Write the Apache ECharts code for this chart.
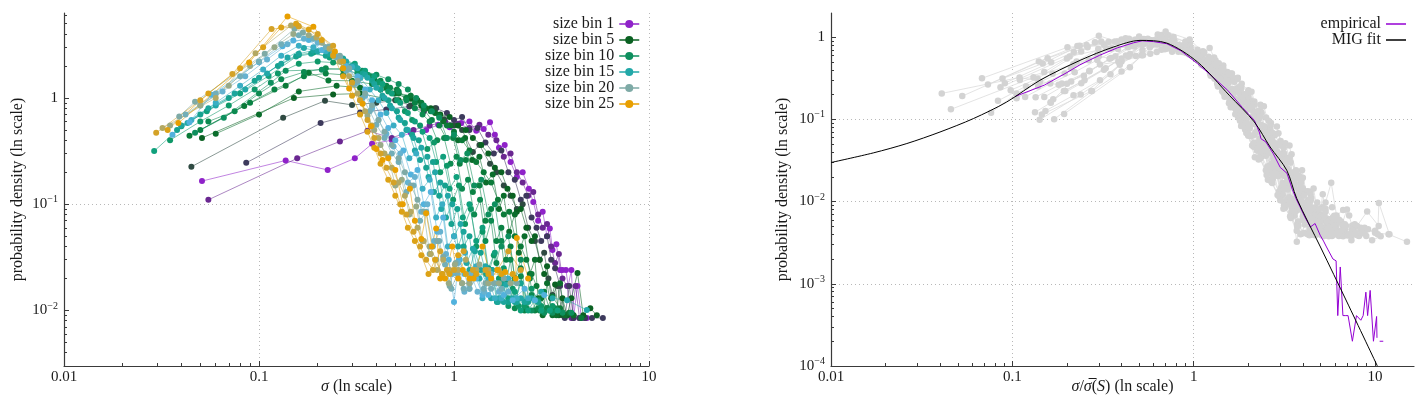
<!DOCTYPE html>
<html><head><meta charset="utf-8">
<script src="https://cdn.jsdelivr.net/npm/echarts@6/dist/echarts.min.js"></script>
<style>html,body{margin:0;padding:0;background:#fff}#c{width:1422px;height:399px}</style>
</head><body><div id="c"></div>
<script>
// ---------- data ----------
const binNumbers = [1,2,3,4,5,6,7,8,9,10,11,12,13,14,15,16,17,18,19,20,21,22,23,24,25];
const binColors = ['#8f22c9','#6a2791','#3d3a5c','#2f4a42','#0a6122','#0b6d2c','#0a7a38','#0a8244','#0c8a50','#0e8f5e',
                   '#0e9868','#10a07c','#16a290','#1ca59c','#22a8a8','#3aaec4','#52b2dd','#66b2d0','#72aeb8','#7eaaa6',
                   '#98aa88','#b3a862','#d4a227','#dca216','#e89f00'];
const meanSigma = [1.25,1.2,1.0,0.85,0.75,0.68,0.6,0.55,0.5,0.48,0.42,0.38,0.36,0.34,0.32,0.3,0.27,0.26,0.25,0.24,0.23,0.22,0.21,0.2,0.2];

const sizeBin1 = [[0.051,0.165],[0.137,0.258],[0.225,0.21],[0.31,0.27],[0.38,0.37],[0.48,0.40],[0.6,0.47],[0.72,0.5],[0.83,0.56],[0.95,0.53],[1.09,0.58],[1.2,0.6],[1.3,0.49],[1.42,0.51],[1.53,0.59],[1.62,0.45],[1.7,0.34],[1.82,0.36],[1.95,0.25],[2.1,0.18],[2.25,0.2],[2.42,0.14],[2.55,0.105],[2.7,0.07],[2.85,0.085],[3.0,0.05],[3.1,0.059],[3.2,0.037],[3.35,0.042],[3.5,0.024],[3.6,0.024],[3.75,0.024],[3.85,0.017],[4.0,0.024],[4.1,0.0085],[4.3,0.017],[4.5,0.0085],[4.8,0.0085]];
const sizeBin2 = [[0.055,0.11],[0.157,0.27],[0.26,0.39],[0.36,0.49],[0.48,0.42],[0.62,0.5],[0.75,0.55],[0.9,0.6],[1.05,0.57],[1.2,0.52],[1.35,0.56],[1.5,0.45],[1.65,0.4],[1.8,0.28],[1.95,0.3],[2.1,0.2],[2.25,0.16],[2.4,0.12],[2.55,0.13],[2.7,0.08],[2.85,0.06],[3.0,0.065],[3.15,0.04],[3.3,0.028],[3.45,0.034],[3.6,0.02],[3.8,0.017],[4.0,0.0085],[4.2,0.017],[4.4,0.0085],[4.7,0.0085]];
const sizeBin3 = [[0.086,0.245],[0.207,0.58],[0.33,0.73],[0.45,0.78],[0.59,0.83],[0.7,0.75],[0.81,0.8],[0.92,0.72],[1.0,0.62],[1.1,0.66],[1.2,0.5],[1.32,0.52],[1.45,0.38],[1.6,0.3],[1.75,0.32],[1.9,0.2],[2.05,0.17],[2.2,0.11],[2.35,0.12],[2.5,0.075],[2.65,0.06],[2.8,0.045],[3.0,0.05],[3.15,0.03],[3.3,0.025],[3.5,0.017],[3.7,0.0085],[3.9,0.017],[4.1,0.0085],[4.4,0.0085],[4.7,0.0085],[5.1,0.0085],[5.8,0.0085]];
const sizeBin4 = [[0.045,0.225],[0.133,0.65],[0.218,0.94],[0.30,0.86],[0.4,0.9],[0.5,0.95],[0.6,0.85],[0.7,0.78],[0.8,0.8],[0.89,0.63],[1.0,0.55],[1.1,0.5],[1.25,0.31],[1.35,0.36],[1.53,0.24],[1.65,0.2],[1.8,0.15],[1.95,0.12],[2.1,0.09],[2.25,0.1],[2.4,0.06],[2.6,0.045],[2.75,0.03],[2.9,0.035],[3.05,0.02],[3.2,0.014],[3.4,0.017],[3.6,0.009],[3.8,0.009],[4.1,0.009]];
const sizeBin5 = [[0.051,0.42],[0.151,1.0],[0.24,1.08],[0.33,1.1],[0.43,1.0],[0.52,0.95],[0.6,0.98],[0.68,0.85],[0.76,0.8],[0.85,0.7],[0.95,0.66],[1.05,0.55],[1.15,0.5],[1.25,0.42],[1.38,0.36],[1.5,0.3],[1.62,0.22],[1.75,0.2],[1.88,0.14],[2.0,0.12],[2.1,0.085],[2.2,0.09],[2.35,0.06],[2.5,0.045],[2.6,0.05],[2.75,0.03],[2.9,0.022],[3.0,0.026],[3.15,0.013],[3.3,0.0175],[3.45,0.009],[3.6,0.013],[3.8,0.009],[4.0,0.013],[4.3,0.0225],[4.6,0.009],[5.0,0.0105],[5.4,0.009]];
const sizeBin6 = [[0.06,0.46],[0.1,0.7],[0.16,1.15],[0.25,1.3],[0.33,1.25],[0.42,1.2],[0.5,1.1],[0.57,1.0],[0.65,0.95],[0.72,0.8],[0.8,0.72],[0.88,0.6],[0.96,0.55],[1.05,0.4],[1.14,0.42],[1.24,0.26],[1.35,0.28],[1.46,0.16],[1.58,0.19],[1.7,0.09],[1.8,0.12],[1.92,0.055],[2.05,0.08],[2.15,0.035],[2.3,0.05],[2.45,0.022],[2.6,0.03],[2.7,0.013],[2.85,0.009],[3.0,0.018],[3.2,0.009],[3.35,0.009],[3.5,0.018],[3.7,0.009],[4.1,0.009]];
const sizeBin7 = [[0.044,0.44],[0.084,0.84],[0.137,1.3],[0.18,1.73],[0.227,1.46],[0.3,1.45],[0.38,1.35],[0.45,1.25],[0.52,1.1],[0.6,1.05],[0.68,0.9],[0.76,0.75],[0.84,0.68],[0.92,0.55],[1.0,0.48],[1.1,0.4],[1.2,0.32],[1.3,0.25],[1.42,0.2],[1.55,0.16],[1.68,0.11],[1.8,0.08],[1.92,0.085],[2.05,0.05],[2.2,0.04],[2.35,0.03],[2.5,0.022],[2.65,0.017],[2.8,0.013],[3.0,0.0105],[3.2,0.0135],[3.5,0.0105],[3.9,0.0095],[4.5,0.0085]];
const sizeBin8 = [[0.05,0.5],[0.09,0.9],[0.12,1.2],[0.17,1.6],[0.22,1.7],[0.27,1.65],[0.33,1.55],[0.39,1.5],[0.45,1.3],[0.51,1.2],[0.57,1.0],[0.63,0.9],[0.7,0.78],[0.77,0.62],[0.84,0.55],[0.91,0.42],[0.99,0.42],[1.07,0.24],[1.15,0.26],[1.25,0.13],[1.35,0.15],[1.45,0.07],[1.55,0.09],[1.65,0.045],[1.75,0.06],[1.85,0.03],[1.95,0.04],[2.05,0.02],[2.2,0.025],[2.3,0.01],[2.45,0.02],[2.6,0.01],[2.75,0.01],[2.9,0.015],[3.1,0.01],[3.4,0.01]];
const sizeBin9 = [[0.055,0.6],[0.075,0.75],[0.1,1.1],[0.13,1.5],[0.17,1.75],[0.22,1.9],[0.27,1.85],[0.32,1.7],[0.37,1.6],[0.42,1.45],[0.47,1.25],[0.52,1.15],[0.57,0.95],[0.63,0.8],[0.69,0.7],[0.75,0.6],[0.82,0.4],[0.89,0.42],[0.96,0.24],[1.03,0.28],[1.1,0.14],[1.18,0.17],[1.27,0.08],[1.36,0.11],[1.45,0.045],[1.55,0.07],[1.65,0.028],[1.75,0.045],[1.85,0.018],[1.95,0.03],[2.05,0.0105],[2.2,0.021],[2.35,0.0105],[2.5,0.014],[2.7,0.0105],[3.0,0.0105],[3.3,0.0105]];
const sizeBin10 = [[0.047,0.47],[0.066,0.65],[0.115,1.39],[0.137,1.8],[0.21,1.84],[0.28,1.9],[0.34,1.8],[0.4,1.65],[0.46,1.5],[0.52,1.35],[0.58,1.2],[0.64,1.0],[0.7,0.85],[0.77,0.75],[0.84,0.65],[0.92,0.42],[1.0,0.45],[1.08,0.26],[1.17,0.3],[1.27,0.15],[1.38,0.17],[1.5,0.08],[1.62,0.1],[1.75,0.04],[1.9,0.05],[2.05,0.02],[2.2,0.03],[2.35,0.012],[2.5,0.01],[2.7,0.0125],[2.9,0.0095],[3.2,0.0095],[3.6,0.0095],[4.0,0.0095]];
const sizeBin11 = [[0.035,0.4],[0.05,0.6],[0.07,0.85],[0.095,1.2],[0.125,1.7],[0.16,2.1],[0.2,2.2],[0.24,2.15],[0.28,2.0],[0.32,1.8],[0.36,1.65],[0.41,1.4],[0.46,1.15],[0.51,0.95],[0.56,0.75],[0.61,0.62],[0.67,0.55],[0.73,0.33],[0.79,0.38],[0.85,0.2],[0.92,0.23],[0.99,0.11],[1.06,0.15],[1.14,0.065],[1.22,0.09],[1.3,0.04],[1.4,0.055],[1.5,0.022],[1.6,0.033],[1.7,0.02],[1.8,0.025],[1.9,0.011],[2.0,0.016],[2.15,0.011],[2.3,0.011],[2.5,0.016],[2.8,0.011],[3.2,0.011]];
const sizeBin12 = [[0.029,0.316],[0.04,0.54],[0.054,0.75],[0.08,1.1],[0.112,1.61],[0.16,2.54],[0.19,2.67],[0.23,2.4],[0.27,2.3],[0.31,2.1],[0.35,1.8],[0.39,1.6],[0.43,1.35],[0.48,1.1],[0.53,0.9],[0.58,0.72],[0.63,0.6],[0.69,0.48],[0.75,0.42],[0.81,0.25],[0.88,0.28],[0.95,0.14],[1.03,0.18],[1.11,0.075],[1.2,0.1],[1.3,0.045],[1.4,0.06],[1.5,0.025],[1.62,0.035],[1.75,0.018],[1.9,0.013],[2.05,0.015],[2.2,0.01],[2.4,0.01],[2.6,0.0125],[2.8,0.01],[3.1,0.01],[3.4,0.01]];
const sizeBin13 = [[0.038,0.5],[0.05,0.7],[0.07,1.0],[0.095,1.45],[0.125,2.0],[0.155,2.45],[0.185,2.6],[0.22,2.5],[0.26,2.3],[0.3,2.0],[0.34,1.7],[0.38,1.45],[0.42,1.2],[0.46,0.95],[0.51,0.75],[0.56,0.58],[0.61,0.45],[0.66,0.4],[0.72,0.22],[0.78,0.25],[0.84,0.12],[0.9,0.15],[0.97,0.065],[1.04,0.09],[1.12,0.04],[1.2,0.05],[1.28,0.022],[1.37,0.035],[1.46,0.022],[1.56,0.024],[1.66,0.012],[1.78,0.018],[1.9,0.012],[2.05,0.012],[2.2,0.018],[2.4,0.012],[2.7,0.012]];
const sizeBin14 = [[0.04,0.55],[0.055,0.8],[0.075,1.1],[0.1,1.55],[0.13,2.1],[0.16,2.6],[0.19,2.8],[0.23,2.6],[0.27,2.35],[0.31,2.0],[0.35,1.65],[0.39,1.35],[0.43,1.05],[0.47,0.85],[0.52,0.65],[0.57,0.5],[0.62,0.42],[0.67,0.26],[0.73,0.28],[0.79,0.13],[0.85,0.16],[0.91,0.075],[0.98,0.1],[1.05,0.04],[1.12,0.055],[1.2,0.024],[1.28,0.036],[1.37,0.024],[1.47,0.018],[1.57,0.024],[1.68,0.012],[1.8,0.012],[1.95,0.018],[2.1,0.012],[2.3,0.012],[2.6,0.0125]];
const sizeBin15 = [[0.043,0.58],[0.06,0.85],[0.085,1.2],[0.11,1.7],[0.14,2.4],[0.17,2.95],[0.2,2.75],[0.24,2.55],[0.28,2.2],[0.32,1.9],[0.36,1.55],[0.4,1.25],[0.44,1.0],[0.48,0.8],[0.53,0.62],[0.58,0.5],[0.63,0.32],[0.68,0.34],[0.74,0.18],[0.8,0.2],[0.86,0.09],[0.93,0.12],[1.0,0.05],[1.08,0.065],[1.16,0.028],[1.25,0.038],[1.35,0.02],[1.45,0.026],[1.55,0.013],[1.7,0.013],[1.85,0.0175],[2.0,0.013],[2.2,0.013],[2.5,0.013],[2.8,0.015],[3.2,0.013],[3.8,0.0125],[4.8,0.0101]];
const sizeBin16 = [[0.045,0.62],[0.06,0.9],[0.08,1.3],[0.105,1.85],[0.13,2.5],[0.16,3.1],[0.19,3.0],[0.22,2.75],[0.26,2.4],[0.3,1.95],[0.33,1.55],[0.37,1.2],[0.41,0.95],[0.45,0.72],[0.49,0.55],[0.54,0.45],[0.59,0.27],[0.64,0.3],[0.69,0.14],[0.75,0.17],[0.81,0.075],[0.87,0.1],[0.93,0.04],[1.0,0.05],[1.07,0.03],[1.14,0.035],[1.22,0.02],[1.3,0.026],[1.4,0.013],[1.5,0.02],[1.62,0.013],[1.75,0.013],[1.9,0.02],[2.1,0.013],[2.4,0.013]];
const sizeBin17 = [[0.036,0.45],[0.044,0.59],[0.057,1.07],[0.1,2.17],[0.132,3.07],[0.15,3.47],[0.18,3.5],[0.21,2.83],[0.245,2.5],[0.28,2.0],[0.32,1.6],[0.35,1.2],[0.38,0.95],[0.42,0.7],[0.46,0.52],[0.5,0.4],[0.55,0.32],[0.6,0.19],[0.65,0.21],[0.7,0.1],[0.76,0.13],[0.82,0.055],[0.88,0.075],[0.94,0.03],[1.0,0.012],[1.06,0.03],[1.13,0.022],[1.2,0.016],[1.3,0.02],[1.4,0.014],[1.5,0.014],[1.65,0.018],[1.8,0.014],[2.0,0.0125],[2.3,0.016],[2.6,0.0125],[2.9,0.014]];
const sizeBin18 = [[0.05,0.85],[0.065,1.15],[0.085,1.6],[0.11,2.3],[0.14,3.2],[0.17,3.6],[0.2,3.3],[0.23,2.9],[0.26,2.4],[0.29,1.85],[0.32,1.4],[0.35,1.05],[0.38,0.8],[0.41,0.62],[0.45,0.46],[0.49,0.35],[0.53,0.3],[0.58,0.16],[0.63,0.18],[0.68,0.085],[0.73,0.1],[0.79,0.045],[0.85,0.055],[0.91,0.034],[0.98,0.022],[1.05,0.028],[1.13,0.015],[1.22,0.022],[1.32,0.015],[1.43,0.015],[1.55,0.022],[1.7,0.015],[1.9,0.015]];
const sizeBin19 = [[0.042,0.7],[0.06,1.1],[0.08,1.6],[0.1,2.2],[0.13,3.2],[0.16,3.9],[0.19,3.6],[0.22,3.0],[0.25,2.4],[0.28,1.8],[0.31,1.35],[0.34,1.0],[0.37,0.75],[0.4,0.56],[0.44,0.42],[0.48,0.3],[0.52,0.25],[0.57,0.13],[0.62,0.15],[0.67,0.07],[0.72,0.085],[0.78,0.04],[0.84,0.045],[0.9,0.027],[0.97,0.016],[1.04,0.022],[1.12,0.016],[1.2,0.016],[1.3,0.024],[1.42,0.016],[1.55,0.016],[1.75,0.016]];
const sizeBin20 = [[0.039,0.67],[0.047,0.92],[0.107,2.6],[0.152,4.47],[0.168,4.13],[0.229,3.05],[0.26,2.5],[0.29,1.9],[0.32,1.45],[0.35,1.1],[0.38,0.85],[0.41,0.62],[0.44,0.48],[0.48,0.36],[0.52,0.27],[0.56,0.2],[0.6,0.15],[0.65,0.11],[0.7,0.085],[0.75,0.034],[0.82,0.045],[0.88,0.032],[0.95,0.017],[1.02,0.028],[1.1,0.018],[1.2,0.018],[1.3,0.024],[1.45,0.018],[1.6,0.018],[1.8,0.02],[2.1,0.018]];
const sizeBin21 = [[0.035,0.55],[0.05,0.85],[0.07,1.3],[0.09,2.0],[0.12,3.0],[0.15,4.0],[0.18,3.9],[0.21,3.3],[0.24,2.6],[0.27,1.9],[0.3,1.35],[0.33,0.95],[0.36,0.68],[0.39,0.5],[0.42,0.36],[0.46,0.28],[0.5,0.15],[0.54,0.17],[0.59,0.08],[0.64,0.095],[0.69,0.045],[0.75,0.04],[0.81,0.03],[0.87,0.022],[0.94,0.018],[1.01,0.027],[1.1,0.018],[1.2,0.018],[1.35,0.027],[1.5,0.018],[1.7,0.018],[1.95,0.018]];
const sizeBin22 = [[0.032,0.52],[0.06,1.0],[0.096,2.64],[0.146,4.8],[0.159,4.77],[0.197,3.7],[0.23,2.9],[0.26,2.2],[0.29,1.6],[0.32,1.1],[0.35,0.75],[0.38,0.55],[0.41,0.42],[0.44,0.3],[0.48,0.22],[0.52,0.16],[0.56,0.12],[0.6,0.085],[0.65,0.06],[0.7,0.045],[0.76,0.034],[0.82,0.024],[0.88,0.03],[0.95,0.024],[1.05,0.024],[1.15,0.03],[1.3,0.024],[1.5,0.024],[1.7,0.024]];
const sizeBin23 = [[0.0297,0.47],[0.05,0.95],[0.073,1.68],[0.116,4.45],[0.16,4.7],[0.2,4.0],[0.24,3.1],[0.27,2.2],[0.3,1.4],[0.33,0.95],[0.36,0.62],[0.39,0.42],[0.42,0.3],[0.45,0.22],[0.49,0.16],[0.53,0.1],[0.57,0.08],[0.62,0.055],[0.67,0.04],[0.72,0.03],[0.78,0.024],[0.85,0.036],[0.92,0.024],[1.0,0.024],[1.12,0.036],[1.25,0.024],[1.45,0.024],[1.67,0.024],[1.9,0.036],[2.2,0.024]];
const sizeBin24 = [[0.034,0.5],[0.055,1.1],[0.08,1.9],[0.105,3.0],[0.13,4.6],[0.155,5.0],[0.18,4.4],[0.21,3.5],[0.24,2.5],[0.27,1.6],[0.3,1.05],[0.33,0.7],[0.36,0.48],[0.39,0.34],[0.42,0.24],[0.46,0.17],[0.5,0.12],[0.54,0.085],[0.58,0.06],[0.63,0.045],[0.68,0.033],[0.74,0.022],[0.8,0.03],[0.87,0.022],[0.95,0.022],[1.05,0.033],[1.15,0.022],[1.3,0.022],[1.5,0.022],[1.75,0.022],[2.0,0.022]];
const sizeBin25 = [[0.0386,0.58],[0.089,2.15],[0.14,5.85],[0.19,4.67],[0.245,2.73],[0.27,1.9],[0.29,1.23],[0.34,0.88],[0.375,0.54],[0.4,0.33],[0.43,0.26],[0.46,0.27],[0.5,0.21],[0.546,0.1],[0.594,0.14],[0.63,0.07],[0.68,0.047],[0.72,0.082],[0.77,0.04],[0.81,0.059],[0.85,0.02],[0.9,0.02],[0.98,0.04],[1.05,0.02],[1.11,0.024],[1.2,0.02],[1.26,0.02],[1.4,0.04],[1.55,0.02],[1.67,0.024],[1.83,0.023],[2.07,0.02],[2.1,0.048],[2.4,0.02]];

const empirical = [[0.104,0.19],[0.15,0.26],[0.2,0.37],[0.236,0.46],[0.303,0.6],[0.38,0.74],[0.465,0.85],[0.52,0.9],[0.6,0.88],[0.71,0.83],[0.85,0.68],[1.05,0.475],[1.25,0.34],[1.54,0.225],[1.85,0.14],[2.16,0.097],[2.3,0.07],[2.35,0.058],[2.5,0.053],[2.75,0.038],[3.0,0.026],[3.27,0.022],[3.5,0.014],[3.7,0.0104],[3.86,0.0086],[4.1,0.0065],[4.4,0.0049],[4.67,0.0054],[4.98,0.0039],[5.2,0.0033],[5.4,0.0028],[5.86,0.002],[6.1,0.0019],[6.23,0.00041],[6.43,0.0016],[6.65,0.00041],[6.9,0.00041],[7.1,0.00041],[7.5,0.0002],[7.9,0.00041],[8.35,0.00036],[8.6,0.00041],[8.9,0.00079],[9.1,0.00041],[9.4,0.00083],[9.8,0.0002],[10.2,0.0004],[10.25,0.00022],[10.4,null],[10.6,0.0002],[11.1,0.0002]];
const migFit = [[0.01,0.0298],[0.0171,0.039],[0.0262,0.0507],[0.0399,0.070],[0.061,0.102],[0.093,0.162],[0.142,0.298],[0.236,0.52],[0.361,0.756],[0.506,0.91],[0.71,0.845],[1.05,0.497],[1.57,0.196],[2.16,0.0927],[2.64,0.046],[3.26,0.024],[3.7,0.0109],[5.0,0.0028],[7.0,0.0006],[10.3,0.0001]];

const leftXTicks = [0.01, 0.1, 1, 10];
const leftYTicks = [0.01, 0.1, 1];
const rightXTicks = [0.01, 0.1, 1, 10];
const rightYTicks = [0.0001, 0.001, 0.01, 0.1, 1];
const leftXMinor = [0.02,0.03,0.04,0.05,0.06,0.07,0.08,0.09,0.2,0.3,0.4,0.5,0.6,0.7,0.8,0.9,2,3,4,5,6,7,8,9];
const leftYMinor = [0.003,0.004,0.005,0.006,0.007,0.008,0.009,0.02,0.03,0.04,0.05,0.06,0.07,0.08,0.09,0.2,0.3,0.4,0.5,0.6,0.7,0.8,0.9,2,3,4,5,6];
const rightXMinor = [0.02,0.03,0.04,0.05,0.06,0.07,0.08,0.09,0.2,0.3,0.4,0.5,0.6,0.7,0.8,0.9,2,3,4,5,6,7,8,9];
const rightYMinor = [0.0002,0.0003,0.0004,0.0005,0.0006,0.0007,0.0008,0.0009,0.002,0.003,0.004,0.005,0.006,0.007,0.008,0.009,0.02,0.03,0.04,0.05,0.06,0.07,0.08,0.09,0.2,0.3,0.4,0.5,0.6,0.7,0.8,0.9];

const legendBins = ['size bin 1', 'size bin 5', 'size bin 10', 'size bin 15', 'size bin 20', 'size bin 25'];
const legendFit = ['empirical', 'MIG fit'];

// ---------- chart ----------
const binData = [sizeBin1, sizeBin2, sizeBin3, sizeBin4, sizeBin5, sizeBin6, sizeBin7, sizeBin8, sizeBin9, sizeBin10,
                 sizeBin11, sizeBin12, sizeBin13, sizeBin14, sizeBin15, sizeBin16, sizeBin17, sizeBin18, sizeBin19, sizeBin20,
                 sizeBin21, sizeBin22, sizeBin23, sizeBin24, sizeBin25];
const SERIF = '"Liberation Serif", "DejaVu Serif", serif';
const TXT = '#1a1a1a';
const AX = '#3a3a3a';

function decLabel(v) {
  const e = Math.round(Math.log10(v));
  return e < 0 ? v.toFixed(-e) : String(Math.round(v));
}
function powLabel(v) {
  const e = Math.round(Math.log10(v));
  if (e === 0) return '{b|1}';
  return '{b|10}{s|\u2212' + (-e) + '}';
}
const richPow = {
  b: { fontSize: 15, fontFamily: SERIF, color: TXT },
  s: { fontSize: 10, fontFamily: SERIF, color: TXT, padding: [0, 0, 9, 0] }
};
const splitLineStyle = { show: true, lineStyle: { type: [1, 3], color: '#b8b8b8', width: 1 } };

function mainX(grid, min, max, ticks, name, showMax) {
  return {
    type: 'log', gridIndex: grid, min: min, max: max, logBase: 10,
    name: name, nameLocation: 'middle', nameGap: 13, nameMoveOverlap: false,
    nameTextStyle: { fontSize: 16, fontFamily: SERIF, color: TXT,
      rich: { i: { fontSize: 16, fontFamily: SERIF, fontStyle: 'italic', color: TXT },
              n: { fontSize: 16, fontFamily: SERIF, color: TXT } } },
    axisLine: { show: true, lineStyle: { color: AX, width: 1.2 } },
    axisTick: { show: true, inside: true, length: 5, customValues: ticks, lineStyle: { color: AX } },
    axisLabel: { customValues: ticks, formatter: decLabel, margin: 4, fontSize: 15, fontFamily: SERIF, color: TXT },
    splitLine: Object.assign({ showMinLine: false, showMaxLine: showMax }, splitLineStyle)
  };
}
function mainY(grid, min, max, ticks, name, gap) {
  return {
    type: 'log', gridIndex: grid, min: min, max: max, logBase: 10,
    name: name, nameLocation: 'middle', nameGap: gap, nameMoveOverlap: false,
    nameTextStyle: { fontSize: 16, fontFamily: SERIF, color: TXT },
    axisLine: { show: true, lineStyle: { color: AX, width: 1.2 } },
    axisTick: { show: true, inside: true, length: 5, customValues: ticks, lineStyle: { color: AX } },
    axisLabel: { customValues: ticks, formatter: powLabel, margin: 6, rich: richPow },
    splitLine: Object.assign({ showMinLine: false, showMaxLine: false }, splitLineStyle)
  };
}
function minorAxis(grid, min, max, ticks, pos) {
  return {
    type: 'log', gridIndex: grid, min: min, max: max, logBase: 10, position: pos,
    axisLine: { show: false },
    axisLabel: { show: false },
    splitLine: { show: false },
    axisTick: { show: true, inside: true, length: 3, customValues: ticks, lineStyle: { color: AX } }
  };
}

const series = [];
binData.forEach((d, i) => {
  series.push({
    type: 'line', name: 'size bin ' + binNumbers[i], xAxisIndex: 0, yAxisIndex: 0,
    data: d, symbol: 'circle', symbolSize: 6, showSymbol: true,
    itemStyle: { color: binColors[i] },
    lineStyle: { color: binColors[i], width: 0.8, opacity: 0.7 },
    emphasis: { disabled: true }, silent: true, z: 2
  });
});
binData.forEach((d, i) => {
  const s = meanSigma[i];
  series.push({
    type: 'line', name: 'rescaled bin ' + binNumbers[i], xAxisIndex: 1, yAxisIndex: 1,
    data: d.map(p => [p[0] / s, p[1] * s]), symbol: 'circle', symbolSize: 6.5,
    itemStyle: { color: '#d3d3d3' },
    lineStyle: { color: '#dcdcdc', width: 0.8 },
    emphasis: { disabled: true }, silent: true, z: 2
  });
});
series.push({
  type: 'line', name: 'empirical', xAxisIndex: 1, yAxisIndex: 1, data: empirical,
  symbol: 'none', connectNulls: false,
  lineStyle: { color: '#9400d3', width: 1 }, itemStyle: { color: '#9400d3' },
  emphasis: { disabled: true }, silent: true, z: 4
});
series.push({
  type: 'line', name: 'MIG fit', xAxisIndex: 1, yAxisIndex: 1, data: migFit,
  symbol: 'none', smooth: 0.3,
  lineStyle: { color: '#000', width: 1 }, itemStyle: { color: '#000' },
  emphasis: { disabled: true }, silent: true, z: 5
});

const legendText = { fontSize: 16, fontFamily: SERIF, color: TXT, lineHeight: 15.6 };
const option = {
  animation: false,
  backgroundColor: '#fff',
  grid: [
    { left: 64, right: 773, top: 13, bottom: 33, outerBoundsMode: 'none', containLabel: false },
    { left: 831, right: 8, top: 13, bottom: 33, outerBoundsMode: 'none', containLabel: false }
  ],
  xAxis: [
    mainX(0, 0.01, 10, leftXTicks, '{i|σ}{n| (ln scale)}', true),
    mainX(1, 0.01, 16.4, rightXTicks, '{i|σ}{n|/}{i|σ\u0305}{n|(}{i|S}{n|) (ln scale)}', false),
    minorAxis(0, 0.01, 10, leftXMinor, 'bottom'),
    minorAxis(1, 0.01, 16.4, rightXMinor, 'bottom')
  ],
  yAxis: [
    mainY(0, 0.003, 6.3, leftYTicks, 'probability density (ln scale)', 38),
    mainY(1, 0.0001, 1.96, rightYTicks, 'probability density (ln scale)', 40),
    minorAxis(0, 0.003, 6.3, leftYMinor, 'left'),
    minorAxis(1, 0.0001, 1.96, rightYMinor, 'left')
  ],
  legend: [
    { data: legendBins, orient: 'vertical', align: 'right', right: 777, top: 11,
      itemWidth: 20, itemHeight: 10, itemGap: 0, selectedMode: false,
      lineStyle: { width: 1.5, opacity: 1 }, textStyle: legendText },
    { data: legendFit, orient: 'vertical', align: 'right', right: 11, top: 11,
      itemWidth: 20, itemHeight: 1.5, itemGap: 0, selectedMode: false, icon: 'rect',
      textStyle: legendText }
  ],
  series: series
};
const chart = echarts.init(document.getElementById('c'), null, { renderer: 'canvas' });
chart.setOption(option);
</script>
</body></html>
